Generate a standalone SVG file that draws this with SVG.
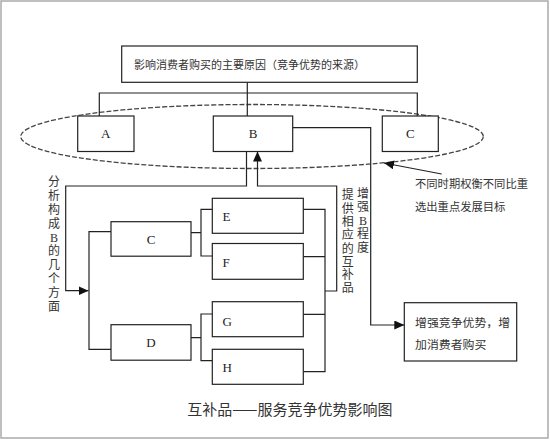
<svg xmlns="http://www.w3.org/2000/svg" width="550" height="441" viewBox="0 0 550 441">
<style>
.box{fill:#fff;stroke:#222;stroke-width:1.2}
.ln{fill:none;stroke:#222;stroke-width:1.2}
.lbl{font-family:"Liberation Serif",serif;font-size:13px;fill:#222}
.cjk{font-family:"Noto Sans CJK SC",sans-serif;fill:#333}
.v{font-family:"Liberation Serif","Noto Sans CJK SC",serif;font-size:12px;fill:#333;text-anchor:middle}
</style>
<defs>
<marker id="ah" markerUnits="userSpaceOnUse" markerWidth="11" markerHeight="9" refX="10" refY="4.5" orient="auto">
<path d="M0,0 L10,4.5 L0,9 z" fill="#111"/>
</marker>
</defs>
<rect x="1" y="1" width="547" height="437" fill="#fff" stroke="#aaa" stroke-width="1.5"/>
<ellipse cx="252" cy="136.5" rx="231.3" ry="32" fill="none" stroke="#444" stroke-width="1.3" stroke-dasharray="5 2"/>
<g id="connectors" class="ln">
<path d="M247.3,82.3 V116"/>
<path d="M99.3,116 V93 H417.3 V116"/>
<path d="M292.7,127.7 H370.7 V325 H404.3" marker-end="url(#ah)"/>
<path d="M246.5,151.5 V186 H65.7 V290.7 H88.5" marker-end="url(#ah)"/>
<path d="M325,291 H336.7 V186 H257.5 V151.5" marker-end="url(#ah)"/>
<path d="M111,231.7 H89 V349.3 H111"/>
<path d="M212.3,209.3 H201 V256 H212.3 M191,232.7 H201"/>
<path d="M212.3,314 H201 V360.7 H212.3 M191,337.7 H201"/>
<path d="M303.3,209.3 H325 V371.7 H303.3 M303.3,256.7 H325 M303.3,314.3 H325"/>
<path d="M441.7,174 L384,163" marker-end="url(#ah)"/>
</g>
<g id="top"><rect class="box" x="121.7" y="46" width="295.6" height="36.3"/>
<text class="cjk" x="134" y="69" font-size="11">影响消费者购买的主要原因（竞争优势的来源）</text></g>
<g id="A"><rect class="box" x="77.7" y="116" width="56.3" height="35.5"/><text class="lbl" x="105.8" y="138.2" text-anchor="middle">A</text></g>
<g id="B"><rect class="box" x="213.3" y="116" width="79.4" height="35.5"/><text class="lbl" x="253" y="138.2" text-anchor="middle">B</text></g>
<g id="C1"><rect class="box" x="382.3" y="116" width="56" height="35.5"/><text class="lbl" x="410.3" y="138.2" text-anchor="middle">C</text></g>
<g id="C2"><rect class="box" x="111" y="221.7" width="80" height="34.5"/><text class="lbl" x="151" y="243.5" text-anchor="middle">C</text></g>
<g id="D"><rect class="box" x="111" y="324.7" width="80" height="35.5"/><text class="lbl" x="151" y="347" text-anchor="middle">D</text></g>
<g id="E"><rect class="box" x="212.3" y="198.3" width="91" height="35"/><text class="lbl" x="222.5" y="221">E</text></g>
<g id="F"><rect class="box" x="212.3" y="243.5" width="91" height="35.8"/><text class="lbl" x="222.5" y="267">F</text></g>
<g id="G"><rect class="box" x="212.3" y="301.7" width="91" height="35"/><text class="lbl" x="222.5" y="326">G</text></g>
<g id="H"><rect class="box" x="212.3" y="349.3" width="91" height="35"/><text class="lbl" x="222.5" y="372">H</text></g>
<g id="result"><rect class="box" x="404.3" y="302.7" width="112.4" height="58.3"/>
<text class="cjk" x="415" y="326.5" font-size="11.9">增强竞争优势，增</text>
<text class="cjk" x="415" y="348.5" font-size="11.9">加消费者购买</text></g>
<g id="note">
<text class="cjk" x="415" y="188.2" font-size="11.3">不同时期权衡不同比重</text>
<text class="cjk" x="415" y="210.7" font-size="11.3">选出重点发展目标</text></g>
<g id="left-label">
<text class="v" x="54" y="186.3">分</text><text class="v" x="54" y="200.1">析</text><text class="v" x="54" y="213.9">构</text><text class="v" x="54" y="227.7">成</text>
<text class="v" x="54" y="241.5">B</text><text class="v" x="54" y="255.3">的</text><text class="v" x="54" y="269.1">几</text><text class="v" x="54" y="282.9">个</text><text class="v" x="54" y="296.7">方</text><text class="v" x="54" y="310.5">面</text>
</g>
<g id="mid-label">
<text class="v" x="347.7" y="199.3">提</text><text class="v" x="347.7" y="212.6">供</text><text class="v" x="347.7" y="225.9">相</text><text class="v" x="347.7" y="239.2">应</text><text class="v" x="347.7" y="252.5">的</text><text class="v" x="347.7" y="265.8">互</text><text class="v" x="347.7" y="279.1">补</text><text class="v" x="347.7" y="292.4">品</text>
</g>
<g id="right-label">
<text class="v" x="363" y="197.8">增</text><text class="v" x="363" y="211.3">强</text><text class="v" x="363" y="224.8">B</text><text class="v" x="363" y="238.3">程</text><text class="v" x="363" y="251.8">度</text>
</g>
<text id="caption" class="cjk" x="187.3" y="414.5" font-size="15" fill="#111">互补品——服务竞争优势影响图</text>
</svg>
